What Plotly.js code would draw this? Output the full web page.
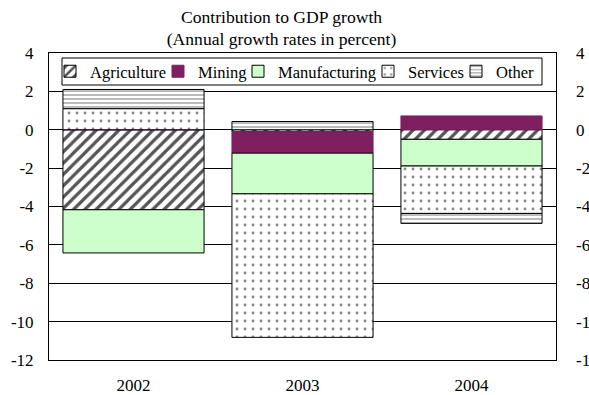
<!DOCTYPE html>
<html><head><meta charset="utf-8">
<script src="https://cdn.plot.ly/plotly-3.0.1.min.js"></script>
<style>body{margin:0;padding:0;background:#fff}#chart{width:589px;height:395px}</style>
</head><body><div id="chart"></div>
<script>
const years = ['2002', '2003', '2004'];
const agriculture = [-4.17, -0.1, -0.5];
const mining = [0, -1.12, 0.72];
const manufacturing = [-2.25, -2.12, -1.39];
const services = [1.1, -7.48, -2.47];
const other = [1.0, 0.43, -0.52];
const yTicks = [4, 2, 0, -2, -4, -6, -8, -10, -12];

const FAM = 'Liberation Serif, Times New Roman, serif';
const font = {family: FAM, size: 17, color: '#000'};
const legFont = {family: FAM, size: 16.5, color: '#000'};
const line = {color: '#000', width: 1};
const w = 0.835;
const traces = [
  {name: 'Agriculture', y: agriculture, legend: 'legend', marker: {color: 'white', line: line, pattern: {shape: '/', fgcolor: '#555', bgcolor: 'white', size: 8, solidity: 0.4}}},
  {name: 'Mining', y: mining, legend: 'legend2', marker: {color: '#7F1F5F', line: {color: '#7F1F5F', width: 1}}},
  {name: 'Manufacturing', y: manufacturing, legend: 'legend3', marker: {color: '#CCFFCC', line: line}},
  {name: 'Services', y: services, legend: 'legend4', marker: {color: 'white', line: line, pattern: {shape: '.', fgcolor: '#888', bgcolor: 'white', size: 8, solidity: 0.1}}},
  {name: 'Other', y: other, legend: 'legend5', marker: {color: 'white', line: line, pattern: {shape: '-', fgcolor: '#aaa', bgcolor: 'white', size: 4, solidity: 0.4}}}
].map(t => Object.assign({type: 'bar', x: years, width: w, hoverinfo: 'skip'}, t));

// invisible trace carrying the right-hand axis
traces.push({type: 'scatter', x: years, y: [0, 0, 0], yaxis: 'y2', mode: 'markers', marker: {opacity: 0}, showlegend: false, hoverinfo: 'skip'});

// plot area in pixels: x 49..556, y 53..360
const px = v => (v - 49) / 507;
const legendText = [90, 198, 278, 408, 496];
function leg(i) {
  return {orientation: 'h', x: px(legendText[i] - 40), xanchor: 'left', y: 0.9397, yanchor: 'middle',
          borderwidth: 0, bgcolor: 'rgba(0,0,0,0)', font: legFont, itemwidth: 30};
}

const layout = {
  width: 589, height: 395,
  margin: {l: 49, r: 33, t: 53, b: 35},
  paper_bgcolor: 'white', plot_bgcolor: 'white',
  font: font,
  barmode: 'relative',
  title: {text: 'Contribution to GDP growth<br>(Annual growth rates in percent)', font: {family: FAM, size: 17.6, color: '#000'}, x: 0.478, xanchor: 'center', y: 0.943, yanchor: 'middle', yref: 'container'},
  xaxis: {type: 'category', showline: true, linecolor: '#000', linewidth: 1, mirror: true, ticks: '', tickfont: font, showgrid: false, ticklabelstandoff: 10},
  yaxis: {range: [-12, 4], tickvals: yTicks, ticktext: yTicks.map(String), showline: true, linecolor: '#000', linewidth: 1, mirror: true, showgrid: true, gridcolor: '#000', gridwidth: 1, zeroline: false, ticks: '', tickfont: font, ticklabelstandoff: 11},
  yaxis2: {range: [-12, 4], tickvals: yTicks, ticktext: yTicks.map(String), overlaying: 'y', side: 'right', showgrid: false, zeroline: false, showline: false, ticks: '', tickfont: font, ticklabelstandoff: 19},
  legend: leg(0), legend2: leg(1), legend3: leg(2), legend4: leg(3), legend5: leg(4),
  shapes: [{type: 'rect', xref: 'paper', yref: 'paper', x0: px(62), x1: px(542), y0: (360 - 85) / 307, y1: (360 - 58) / 307,
            line: {color: '#000', width: 1}, fillcolor: 'white', layer: 'above'}],
  showlegend: true
};
Plotly.newPlot('chart', traces, layout, {staticPlot: true});
</script>
</body></html>
